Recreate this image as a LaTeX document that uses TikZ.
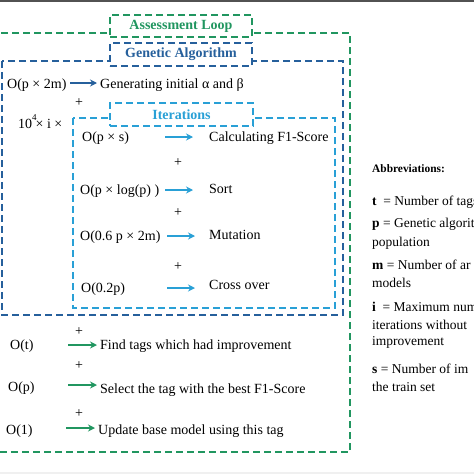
\documentclass[tikz,border=0pt]{standalone}
\usepackage{fontspec}
\setmainfont{Liberation Serif}
\usetikzlibrary{arrows.meta}

\definecolor{loopgreen}{RGB}{33,150,96}
\definecolor{gablue}{RGB}{38,96,156}
\definecolor{itblue}{RGB}{41,160,214}

\newcommand{\txt}{\fontsize{14}{16.8}\selectfont}
\newcommand{\abbr}{\fontsize{13.5}{18}\selectfont}

\tikzset{
  frame/.style={line width=1.5pt, dash pattern=on 7pt off 4pt},
  titlebox/.style={frame, fill=white, font=\txt\bfseries, inner sep=0pt},
  cost/.style={anchor=base west, inner sep=0pt, font=\txt},
  task/.style={anchor=base west, inner sep=0pt, font=\txt},
  plus/.style={anchor=base, inner sep=0pt, font=\txt},
  flow/.style={line width=1.6pt, -{Stealth[length=7pt,width=7pt]}},
  abline/.style={anchor=base west, inner sep=0pt, font=\abbr},
}

\begin{document}
\begin{tikzpicture}[x=1pt, y=-1pt]
	% Page size
	\useasboundingbox (0,0) rectangle (474,474);
	\clip (0,0) rectangle (474,474);

	% Grey bands at top and bottom
	\fill[black!68] (0,0) rectangle (474,2);
	\fill[black!6] (0,472) rectangle (474,474);

	% Draw the frames
	\draw[frame, loopgreen] (-10,33) rectangle (350,452);
	\draw[frame, gablue] (2,61) rectangle (343,315);
	\draw[frame, itblue] (73,118) rectangle (335,308);

	% Title boxes on the frames
	\node[titlebox, draw=loopgreen, text=loopgreen, minimum width=142pt, minimum height=22pt] (loop) at (181,26) {Assessment Loop};
	\node[titlebox, draw=gablue, text=gablue, minimum width=142pt, minimum height=23pt] (ga) at (181,54.5) {Genetic Algorithm};
	\node[titlebox, draw=itblue, text=itblue, minimum width=143pt, minimum height=23pt] (iter) at (181.5,114.5) {Iterations};

	% Genetic algorithm start
	\node[cost] (c0) at (7,88) {O(p × 2m)};
	\node[task] (t0) at (100,88) {Generating initial α and β};
	\coordinate (a0s) at (70,83);
	\coordinate (a0e) at (97,83);
	\draw[flow, gablue] (a0s) -- (a0e);
	\node[plus] (p0) at (79,106.5) {+};
	\node[cost] (rep) at (18,128) {10\rlap{\raisebox{8pt}{\fontsize{9}{9}\selectfont 4}} × i ×};

	% Inside the iterations
	\node[cost] (c1) at (82,141) {O(p × s)};
	\node[task] (t1) at (209,141) {Calculating F1-Score};
	\coordinate (a1s) at (165,137);
	\coordinate (a1e) at (193,137);
	\draw[flow, itblue] (a1s) -- (a1e);
	\node[plus] (p1) at (178,166) {+};

	\node[cost] (c2) at (80,194) {O(p × log(p) )};
	\node[task] (t2) at (209,193.5) {Sort};
	\coordinate (a2s) at (165,190);
	\coordinate (a2e) at (193,190);
	\draw[flow, itblue] (a2s) -- (a2e);
	\node[plus] (p2) at (178,216.5) {+};

	\node[cost] (c3) at (80,240) {O(0.6 p × 2m)};
	\node[task] (t3) at (209,239) {Mutation};
	\coordinate (a3s) at (167,236);
	\coordinate (a3e) at (195,236);
	\draw[flow, itblue] (a3s) -- (a3e);
	\node[plus] (p3) at (178,270.5) {+};

	\node[cost] (c4) at (81,292) {O(0.2p)};
	\node[task] (t4) at (209,289) {Cross over};
	\coordinate (a4s) at (167,288);
	\coordinate (a4e) at (195,288);
	\draw[flow, itblue] (a4s) -- (a4e);

	% Assessment steps
	\node[plus] (p5) at (79,335.5) {+};
	\node[cost] (c5) at (10,349) {O(t)};
	\node[task] (t5) at (100,349) {Find tags which had improvement};
	\coordinate (a5s) at (68,345);
	\coordinate (a5e) at (97,345);
	\draw[flow, loopgreen] (a5s) -- (a5e);
	\node[plus] (p6) at (79,369.5) {+};

	\node[cost] (c6) at (8,391) {O(p)};
	\node[task] (t6) at (100,393) {Select the tag with the best F1-Score};
	\coordinate (a6s) at (68,385);
	\coordinate (a6e) at (97,385);
	\draw[flow, loopgreen] (a6s) -- (a6e);
	\node[plus] (p7) at (79,417.5) {+};

	\node[cost] (c7) at (6,434) {O(1)};
	\node[task] (t7) at (98,434) {Update base model using this tag};
	\coordinate (a7s) at (66,428);
	\coordinate (a7e) at (95,428);
	\draw[flow, loopgreen] (a7s) -- (a7e);

	% Abbreviations
	\node[abline, font=\fontsize{11.4}{13}\selectfont\bfseries] (abbr) at (372,172) {Abbreviations:};
	\node[abline] (ab1) at (372,205) {\textbf{t}\ \ = Number of tags};
	\node[abline] (ab2) at (372,227) {\textbf{p} = Genetic algorithm};
	\node[abline] (ab2b) at (372,246) {population};
	\node[abline] (ab3) at (372,269) {\textbf{m} = Number of ar};
	\node[abline] (ab3b) at (372,287) {models};
	\node[abline] (ab4) at (372,311) {\textbf{i}\ \ = Maximum number};
	\node[abline] (ab4b) at (372,329) {iterations without};
	\node[abline] (ab4c) at (372,345) {improvement};
	\node[abline] (ab5) at (372,373) {\textbf{s} = Number of im};
	\node[abline] (ab5b) at (372,391) {the train set};
\end{tikzpicture}
\end{document}
